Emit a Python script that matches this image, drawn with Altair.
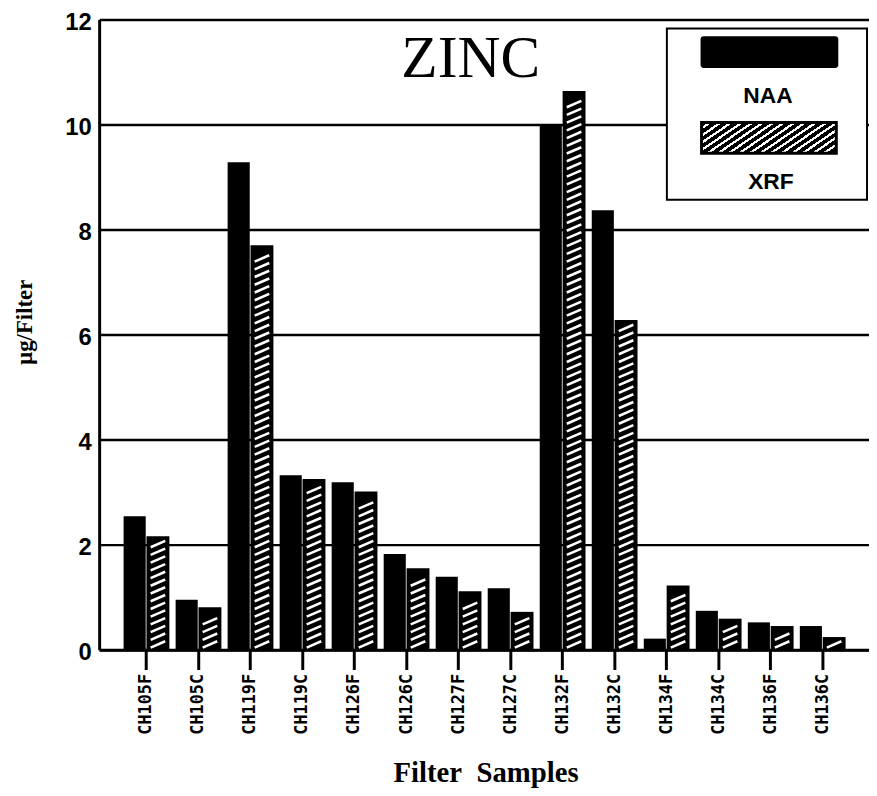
import json
import altair as alt
import pandas as pd

# ---- data ----
samples = ["CH105F", "CH105C", "CH119F", "CH119C", "CH126F", "CH126C", "CH127F",
           "CH127C", "CH132F", "CH132C", "CH134F", "CH134C", "CH136F", "CH136C"]
naa = [2.54, 0.95, 9.28, 3.32, 3.19, 1.82, 1.39, 1.17, 9.99, 8.37, 0.21, 0.74, 0.52, 0.45]
xrf = [2.16, 0.81, 7.70, 3.25, 3.01, 1.55, 1.11, 0.72, 10.64, 6.28, 1.22, 0.59, 0.45, 0.24]
methods = ["NAA", "XRF"]
y_ticks = [0, 2, 4, 6, 8, 10, 12]
chart_title = "ZINC"
x_title = "Filter\u00a0\u00a0Samples"
y_title = "\u03bcg/Filter"

# ---- tables built from the arrays ----
rows = []
for i, s in enumerate(samples):
    rows.append({"sample": s, "idx": i, "method": methods[0], "value": naa[i],
                 "x0": i - 0.43, "x1": i - 0.005})
    rows.append({"sample": s, "idx": i, "method": methods[1], "value": xrf[i],
                 "x0": i + 0.01, "x1": i + 0.45})
bars_df = pd.DataFrame(rows)

# hatch strokes inside the XRF bars (style pattern, clipped to each bar's value)
hatch = []
rise, gap, top_margin = 0.12, 0.147, 0.07
for i, v in enumerate(xrf):
    y0 = 0.04
    while y0 + rise <= v - top_margin:
        hatch.append({"hx0": i + 0.09, "hx1": i + 0.37, "hy0": y0, "hy1": y0 + rise})
        y0 += gap
hatch_df = pd.DataFrame(hatch)

label_expr = json.dumps(samples) + "[datum.value]"

x_scale = alt.Scale(domain=[-0.9, 13.9], nice=False, zero=False)
y_scale = alt.Scale(domain=[0, 12], nice=False)

bars = alt.Chart(bars_df).mark_bar(color="black").encode(
    x=alt.X("x0:Q", scale=x_scale,
            axis=alt.Axis(values=list(range(len(samples))), labelExpr=label_expr,
                          title=x_title, grid=False, domainColor="black", domainWidth=3,
                          tickColor="black", tickWidth=3, tickSize=20,
                          labelAngle=270, labelAlign="right", labelBaseline="middle",
                          labelPadding=4, labelFont="DejaVu Sans Mono", labelFontWeight="bold",
                          labelFontSize=17, labelColor="black",
                          titleFont="Liberation Serif", titleFontWeight="bold",
                          titleFontSize=29, titleColor="black", titleX=390, titleY=133,
                          titleAlign="center", titleBaseline="alphabetic")),
    x2="x1:Q",
    y=alt.Y("value:Q", scale=y_scale,
            axis=alt.Axis(values=y_ticks, title=y_title, grid=True, gridColor="black",
                          gridWidth=2.5, gridOpacity=1, domainColor="black", domainWidth=3,
                          ticks=False, labelPadding=8, labelFont="Liberation Sans",
                          labelFontWeight="bold", labelFontSize=24, labelColor="black",
                          labelOffset=3,
                          titleFont="Liberation Serif", titleFontWeight="bold",
                          titleFontSize=23, titleColor="black", titleX=-68, titleY=305,
                          titleAngle=270, titleAlign="center", titleBaseline="alphabetic")),
    y2=alt.datum(0),
)

hatch_layer = alt.Chart(hatch_df).mark_rule(color="white", strokeWidth=2.6, strokeCap="butt").encode(
    x=alt.X("hx0:Q", scale=x_scale), x2="hx1:Q",
    y=alt.Y("hy0:Q", scale=y_scale), y2="hy1:Q",
)

title_layer = alt.Chart(alt.Data(values=[{"t": chart_title}])).mark_text(
    font="Liberation Serif", fontSize=60, align="center", baseline="alphabetic", color="black"
).encode(x=alt.value(375), y=alt.value(58), text="t:N")

# ---- legend drawn as a boxed panel ----
legend_box = alt.Chart(alt.Data(values=[{}])).mark_rect(
    fill="white", stroke="black", strokeWidth=2
).encode(x=alt.value(573), x2=alt.value(775), y=alt.value(9), y2=alt.value(182))

legend_naa = alt.Chart(alt.Data(values=[{}])).mark_rect(
    fill="black", cornerRadius=3
).encode(x=alt.value(607), x2=alt.value(746), y=alt.value(17), y2=alt.value(49))

N = 17
p = 1.0 / N
stops = []
for k in range(N):
    a = k * p
    b = a + 0.62 * p
    c = min((k + 1) * p, 1.0)
    stops += [alt.GradientStop(color="black", offset=a),
              alt.GradientStop(color="black", offset=b),
              alt.GradientStop(color="white", offset=b),
              alt.GradientStop(color="white", offset=c)]
hatch_grad = alt.LinearGradient(gradient="linear", stops=stops, x1=0, y1=0, x2=1.2, y2=0.4)

legend_xrf = alt.Chart(alt.Data(values=[{}])).mark_rect(
    fill=hatch_grad, stroke="black", strokeWidth=3
).encode(x=alt.value(608), x2=alt.value(744), y=alt.value(104), y2=alt.value(135))

legend_t1 = alt.Chart(alt.Data(values=[{"label": methods[0]}])).mark_text(
    font="Liberation Sans", fontWeight="bold", fontSize=23, align="center",
    baseline="alphabetic", color="black"
).encode(x=alt.value(675), y=alt.value(84), text="label:N")

legend_t2 = alt.Chart(alt.Data(values=[{"label": methods[1]}])).mark_text(
    font="Liberation Sans", fontWeight="bold", fontSize=23, align="center",
    baseline="alphabetic", color="black"
).encode(x=alt.value(678), y=alt.value(171), text="label:N")

chart = alt.layer(
    bars, hatch_layer, title_layer, legend_box, legend_naa, legend_xrf, legend_t1, legend_t2
).properties(
    width=777, height=636,
    autosize=alt.AutoSizeParams(type="none"),
    padding={"left": 92, "top": 8, "right": 0, "bottom": 136},
    background="white",
).configure_view(stroke=None)

chart.save("out.html", embed_options={"renderer": "svg", "actions": False})
